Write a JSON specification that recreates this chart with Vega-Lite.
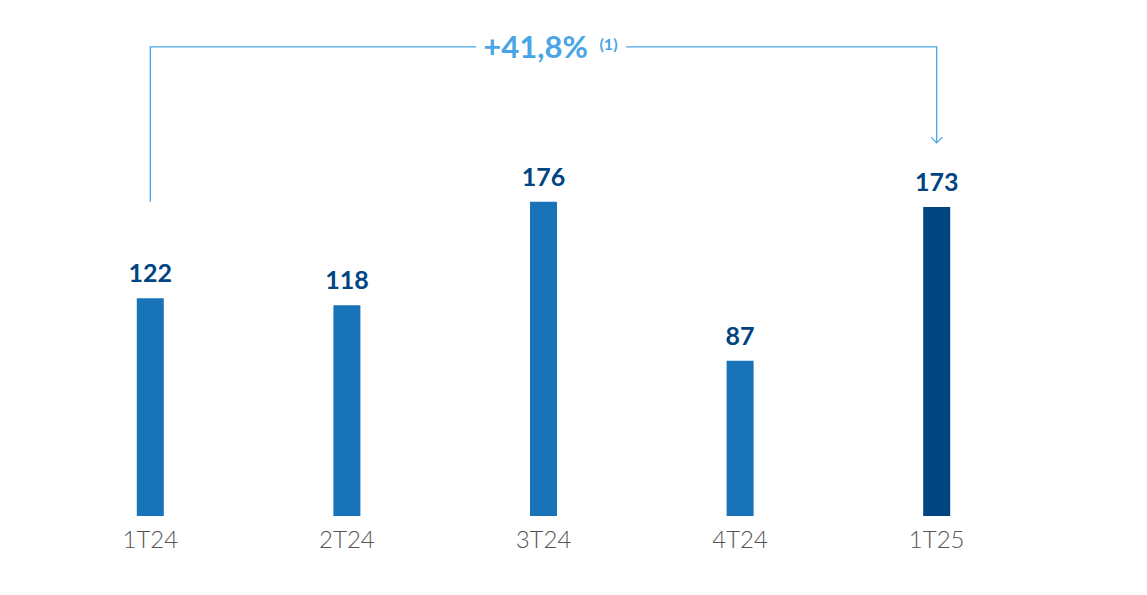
{
  "$schema": "https://vega.github.io/schema/vega-lite/v6.json",
  "width": 983,
  "height": 516,
  "autosize": "none",
  "padding": {"left": 52, "top": 0, "right": 112, "bottom": 79},
  "background": "white",
  "datasets": {
    "bars": [
      {"quarter": "1T24", "value": 122, "latest": "no"},
      {"quarter": "2T24", "value": 118, "latest": "no"},
      {"quarter": "3T24", "value": 176, "latest": "no"},
      {"quarter": "4T24", "value": 87, "latest": "no"},
      {"quarter": "1T25", "value": 173, "latest": "yes"}
    ],
    "bracket": [
      {"quarter": "1T24", "level": 176, "step": 1},
      {"quarter": "1T24", "level": 262.7, "step": 2},
      {"quarter": "1T25", "level": 262.7, "step": 3},
      {"quarter": "1T25", "level": 209.5, "step": 4}
    ],
    "growth": [
      {"quarter": "3T24", "level": 262.7, "low": 256, "high": 270, "label": "+41,8%", "note": "(1)"}
    ],
    "arrow": [
      {"quarter": "1T25", "level": 209.0}
    ]
  },
  "encoding": {
    "x": {
      "field": "quarter",
      "type": "nominal",
      "sort": ["1T24", "2T24", "3T24", "4T24", "1T25"],
      "scale": {"paddingInner": 0, "paddingOuter": 0},
      "axis": {
        "title": null,
        "domain": false,
        "ticks": false,
        "labelAngle": 0,
        "labelPadding": 12,
        "labelFont": "Lato",
        "labelFontWeight": 300,
        "labelFontSize": 24,
        "labelColor": "#555555"
      }
    }
  },
  "layer": [
    {
      "data": {"name": "bars"},
      "mark": {"type": "bar", "size": 27},
      "encoding": {
        "y": {
          "field": "value",
          "type": "quantitative",
          "scale": {"domain": [0, 289], "nice": false},
          "axis": null
        },
        "color": {
          "field": "latest",
          "type": "nominal",
          "scale": {"domain": ["no", "yes"], "range": ["#1973B8", "#004481"]},
          "legend": null
        }
      }
    },
    {
      "data": {"name": "bars"},
      "mark": {
        "type": "text",
        "baseline": "alphabetic",
        "dy": -16,
        "font": "Lato",
        "fontWeight": "bold",
        "fontSize": 25,
        "color": "#004481"
      },
      "encoding": {
        "y": {"field": "value", "type": "quantitative"},
        "text": {"field": "value", "type": "quantitative"}
      }
    },
    {
      "data": {"name": "bracket"},
      "mark": {"type": "line", "color": "#49A5E6", "strokeWidth": 1.3},
      "encoding": {
        "y": {"field": "level", "type": "quantitative"},
        "order": {"field": "step", "type": "quantitative"}
      }
    },
    {
      "data": {"name": "arrow"},
      "mark": {
        "type": "point",
        "shape": "M-1,-1L0,0L1,-1",
        "filled": false,
        "size": 130,
        "stroke": "#49A5E6",
        "strokeWidth": 1.3,
        "opacity": 1
      },
      "encoding": {
        "y": {"field": "level", "type": "quantitative"}
      }
    },
    {
      "data": {"name": "growth"},
      "mark": {"type": "bar", "size": 150, "color": "white"},
      "encoding": {
        "xOffset": {"value": 106},
        "y": {"field": "low", "type": "quantitative"},
        "y2": {"field": "high"}
      }
    },
    {
      "data": {"name": "growth"},
      "mark": {
        "type": "text",
        "align": "center",
        "baseline": "middle",
        "dx": -8,
        "dy": 2,
        "font": "Lato",
        "fontWeight": "bold",
        "fontSize": 31,
        "color": "#49A5E6"
      },
      "encoding": {
        "y": {"field": "level", "type": "quantitative"},
        "text": {"field": "label"}
      }
    },
    {
      "data": {"name": "growth"},
      "mark": {
        "type": "text",
        "align": "center",
        "baseline": "middle",
        "dx": 65,
        "dy": -2,
        "font": "Lato",
        "fontWeight": "bold",
        "fontSize": 16,
        "color": "#49A5E6"
      },
      "encoding": {
        "y": {"field": "level", "type": "quantitative"},
        "text": {"field": "note"}
      }
    }
  ],
  "config": {
    "view": {"stroke": null}
  }
}
